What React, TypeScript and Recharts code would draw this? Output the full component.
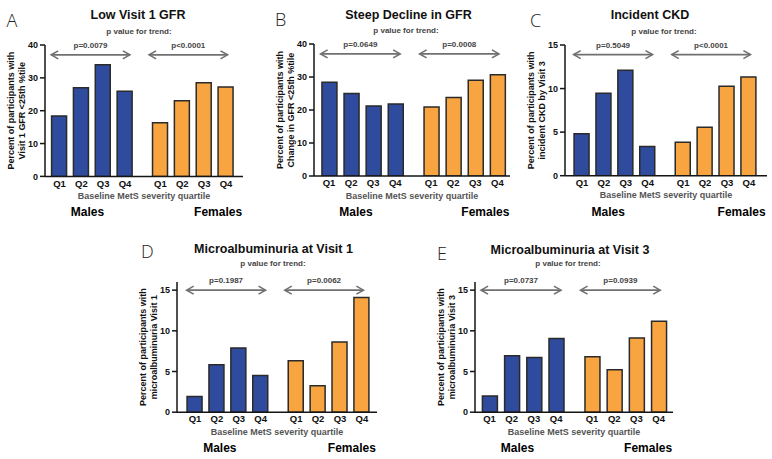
import React from 'react';
import { BarChart, Bar, XAxis, YAxis, Cell, ReferenceLine } from 'recharts';

// ---------- data ----------
const QUARTILES = ['Q1', 'Q2', 'Q3', 'Q4'];
const GROUPS = ['Males', 'Females'];
const LETTERS = ['A', 'B', 'C', 'D', 'E'];
const TITLES = [
  'Low Visit 1 GFR',
  'Steep Decline in GFR',
  'Incident CKD',
  'Microalbuminuria at Visit 1',
  'Microalbuminuria at Visit 3',
];
const TREND_TEXT = 'p value for trend:';
const X_LABEL = 'Baseline MetS severity quartile';
const Y_LABEL_LINE1 = 'Percent of participants with';
const Y_LABEL_LINE2 = [
  'Visit 1 GFR <25th %tile',
  'Change in GFR <25th %tile',
  'incident CKD by Visit 3',
  'microalbuminuria Visit 1',
  'microalbuminuria Visit 3',
];

const MALES_A = [18.4, 27.0, 34.0, 25.9];
const FEMALES_A = [16.3, 23.0, 28.5, 27.2];
const MALES_B = [28.4, 25.0, 21.2, 21.8];
const FEMALES_B = [20.9, 23.8, 29.0, 30.7];
const MALES_C = [4.8, 9.45, 12.1, 3.35];
const FEMALES_C = [3.83, 5.55, 10.26, 11.33];
const MALES_D = [1.93, 5.82, 7.9, 4.5];
const FEMALES_D = [6.32, 3.26, 8.64, 14.1];
const MALES_E = [2.0, 6.93, 6.73, 9.05];
const FEMALES_E = [6.81, 5.22, 9.13, 11.17];

const P_A = ['p=0.0079', 'p<0.0001'];
const P_B = ['p=0.0649', 'p=0.0008'];
const P_C = ['p=0.5049', 'p<0.0001'];
const P_D = ['p=0.1987', 'p=0.0062'];
const P_E = ['p=0.0737', 'p=0.0939'];

const Y_TICKS_40 = [0, 10, 20, 30, 40];
const Y_TICKS_15 = [0, 5, 10, 15];
const Y_MAX = [40, 40, 15, 16, 16];
const ARROW_LEVEL = [37, 37, 13.9, 15, 15];

// ---------- styles / layout ----------
const BLUE = '#2E4B9E';
const ORANGE = '#F7A441';
const BAR_STROKE = '#2a2a2a';
const AXIS = '#151515';
const ARROW = '#707070';
const FONT = '"Liberation Sans", Arial, Helvetica, sans-serif';
const GAP = 4.62;

const LAYOUT = [
  { L: 45, R: 243, T: 45.3, B: 176.7, q1: 59.5, step: 21.85 },
  { L: 314, R: 510, T: 44, B: 176, q1: 329, step: 22.1 },
  { L: 565, R: 767, T: 45.3, B: 176, q1: 582, step: 21.9 },
  { L: 177, R: 377, T: 281.5, B: 411.7, q1: 195, step: 21.9 },
  { L: 475, R: 673, T: 281.5, B: 411.7, q1: 489.5, step: 22.2 },
];

const LETTER_POS = [
  [6.5, 26.5], [275, 26], [530, 26.5], [141, 258], [437, 259.5],
];
const TITLE_POS = [
  [138, 18.5], [408.5, 18.5], [650, 18.5], [273.5, 253], [570, 254],
];
const TREND_POS = [
  [139, 33.5], [406, 33], [664, 33.5], [273, 266], [568, 266],
];

const YW = 50;
const H1 = 28;
const H2 = 20;

const arrowShape = (label: string) => (p: any) => {
  const xa = Math.min(p.x1, p.x2);
  const xb = Math.max(p.x1, p.x2);
  const y = p.y1;
  const h = 7;
  const v = 4;
  return (
    <g>
      <line x1={xa} y1={y} x2={xb} y2={y} stroke={ARROW} strokeWidth={1.6} />
      <polyline points={`${xa + h},${y - v} ${xa},${y} ${xa + h},${y + v}`} fill="none" stroke={ARROW} strokeWidth={1.6} />
      <polyline points={`${xb - h},${y - v} ${xb},${y} ${xb - h},${y + v}`} fill="none" stroke={ARROW} strokeWidth={1.6} />
      <text x={(xa + xb) / 2} y={y - 7} textAnchor="middle" fontSize={8} fontWeight="bold" fill="#444">
        {label}
      </text>
    </g>
  );
};

function Panel({ idx, males, females, pvals, yTicks }: any) {
  const cfg = LAYOUT[idx];
  const data = [
    ...males.map((v: number, i: number) => ({ pos: i, value: v, group: 0, q: QUARTILES[i] })),
    ...females.map((v: number, i: number) => ({ pos: GAP + i, value: v, group: 1, q: QUARTILES[i] })),
  ];
  const d0 = (cfg.L - cfg.q1) / cfg.step;
  const d1 = (cfg.R - cfg.q1) / cfg.step;
  const width = cfg.R - cfg.L + YW + 6;
  const height = cfg.B - cfg.T + 8 + H1 + H2 + 2;
  const arrowY = ARROW_LEVEL[idx];

  const yLabel = (props: any) => {
    const vb = props.viewBox || {};
    const px = vb.x + vb.width;
    const cy = vb.y + vb.height / 2;
    return (
      <g>
        <text transform={`translate(${px - 34.5},${cy}) rotate(-90)`} textAnchor="middle" dominantBaseline="central" fontSize={9} fontWeight="bold" fill="#111">
          {Y_LABEL_LINE1}
        </text>
        <text transform={`translate(${px - 23},${cy}) rotate(-90)`} textAnchor="middle" dominantBaseline="central" fontSize={9} fontWeight="bold" fill="#111">
          {Y_LABEL_LINE2[idx]}
        </text>
      </g>
    );
  };

  const xLabel = (props: any) => {
    const vb = props.viewBox || {};
    return (
      <text x={vb.x + vb.width / 2} y={vb.y + 22.5} textAnchor="middle" fontSize={9} fontWeight="bold" fill="#555">
        {X_LABEL}
      </text>
    );
  };

  return (
    <div style={{ position: 'absolute', left: cfg.L - YW, top: cfg.T - 8 }}>
      <BarChart width={width} height={height} data={data} margin={{ top: 8, right: 6, left: 0, bottom: 2 }}>
        <XAxis
          xAxisId="a"
          dataKey="pos"
          type="number"
          domain={[d0, d1]}
          allowDataOverflow
          ticks={data.map((d) => d.pos)}
          interval={0}
          tickFormatter={(_v: any, i: number) => data[i].q}
          axisLine={{ stroke: AXIS, strokeWidth: 1.5 }}
          tickLine={false}
          tickSize={0}
          tickMargin={3.5}
          height={H1}
          tick={{ fontSize: 9.5, fontWeight: 'bold', fill: '#111' }}
          label={xLabel}
        />
        <XAxis
          xAxisId="b"
          type="number"
          domain={[d0, d1]}
          allowDataOverflow
          ticks={[1.5, GAP + 1.5]}
          interval={0}
          tickFormatter={(_v: any, i: number) => GROUPS[i]}
          axisLine={false}
          tickLine={false}
          tickSize={0}
          tickMargin={3.5}
          height={H2}
          tick={{ fontSize: 12, fontWeight: 'bold', fill: '#000' }}
        />
        <YAxis
          type="number"
          domain={[0, Y_MAX[idx]]}
          allowDataOverflow
          ticks={yTicks}
          interval={0}
          width={YW}
          axisLine={{ stroke: AXIS, strokeWidth: 1.5 }}
          tickLine={{ stroke: AXIS, strokeWidth: 1.5 }}
          tickSize={5}
          tickMargin={2}
          tick={{ fontSize: 9, fontWeight: 'bold', fill: '#111' }}
          label={yLabel}
        />
        <ReferenceLine
          xAxisId="a"
          segment={[{ x: -0.38, y: arrowY }, { x: 3.22, y: arrowY }]}
          shape={arrowShape(pvals[0])}
        />
        <ReferenceLine
          xAxisId="a"
          segment={[{ x: GAP - 0.52, y: arrowY }, { x: GAP + 3.07, y: arrowY }]}
          shape={arrowShape(pvals[1])}
        />
        <Bar xAxisId="a" dataKey="value" barSize={15} stroke={BAR_STROKE} strokeWidth={1.5} isAnimationActive={false}>
          {data.map((d, i) => (
            <Cell key={i} fill={d.group === 0 ? BLUE : ORANGE} />
          ))}
        </Bar>
      </BarChart>
    </div>
  );
}

export default function App() {
  return (
    <div style={{ position: 'absolute', left: 0, top: 0, width: 772, height: 459, background: '#fff', fontFamily: FONT, overflow: 'hidden' }}>
      <Panel idx={0} males={MALES_A} females={FEMALES_A} pvals={P_A} yTicks={Y_TICKS_40} />
      <Panel idx={1} males={MALES_B} females={FEMALES_B} pvals={P_B} yTicks={Y_TICKS_40} />
      <Panel idx={2} males={MALES_C} females={FEMALES_C} pvals={P_C} yTicks={Y_TICKS_15} />
      <Panel idx={3} males={MALES_D} females={FEMALES_D} pvals={P_D} yTicks={Y_TICKS_15} />
      <Panel idx={4} males={MALES_E} females={FEMALES_E} pvals={P_E} yTicks={Y_TICKS_15} />
      <svg width={772} height={459} style={{ position: 'absolute', left: 0, top: 0, pointerEvents: 'none' }}>
        {LETTERS.map((t, i) => (
          <text key={'l' + i} x={LETTER_POS[i][0]} y={LETTER_POS[i][1]} fontSize={18} fontFamily='"Open Sans", sans-serif' fontWeight={300} fill="#222">
            {t}
          </text>
        ))}
        {TITLES.map((t, i) => (
          <text key={'t' + i} x={TITLE_POS[i][0]} y={TITLE_POS[i][1]} textAnchor="middle" fontSize={12.5} fontWeight="bold" fill="#111">
            {t}
          </text>
        ))}
        {TREND_POS.map((p, i) => (
          <text key={'p' + i} x={p[0]} y={p[1]} textAnchor="middle" fontSize={8} fontWeight="bold" fill="#444">
            {TREND_TEXT}
          </text>
        ))}
      </svg>
    </div>
  );
}
